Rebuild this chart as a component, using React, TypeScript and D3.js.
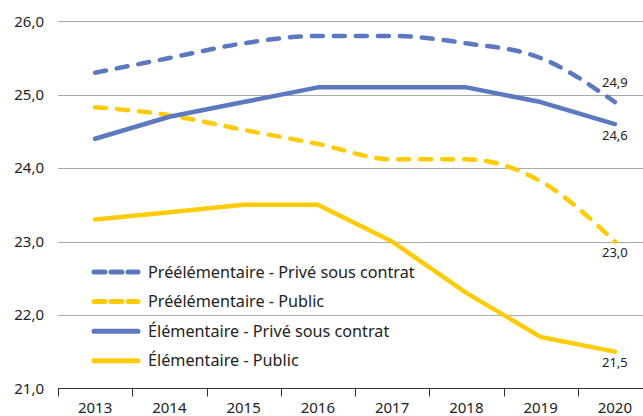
import React, { useRef, useEffect } from "react";
import * as d3 from "d3";

// ── Data ──────────────────────────────────────────────────────────────────────

const YEARS = ["2013", "2014", "2015", "2016", "2017", "2018", "2019", "2020"];

const PREELEM_PRIVE = [25.3, 25.5, 25.7, 25.8, 25.8, 25.7, 25.5, 24.9];
const PREELEM_PUBLIC = [24.83, 24.72, 24.52, 24.33, 24.12, 24.12, 23.82, 23.0];
const ELEM_PRIVE = [24.4, 24.7, 24.9, 25.1, 25.1, 25.1, 24.9, 24.6];
const ELEM_PUBLIC = [23.3, 23.4, 23.5, 23.5, 23.0, 22.3, 21.7, 21.5];

const Y_TICKS = [21, 22, 23, 24, 25, 26];

const BLUE = "#5b78c0";
const YELLOW = "#ffcb05";
const FONT = "'Noto Sans', sans-serif";

interface Series {
  label: string;
  values: number[];
  color: string;
  dashed: boolean;
  endLabel: string;
  labelAbove: boolean;
}

const SERIES: Series[] = [
  { label: "Préélémentaire - Privé sous contrat", values: PREELEM_PRIVE, color: BLUE, dashed: true, endLabel: "24,9", labelAbove: true },
  { label: "Préélémentaire - Public", values: PREELEM_PUBLIC, color: YELLOW, dashed: true, endLabel: "23,0", labelAbove: false },
  { label: "Élémentaire - Privé sous contrat", values: ELEM_PRIVE, color: BLUE, dashed: false, endLabel: "24,6", labelAbove: false },
  { label: "Élémentaire - Public", values: ELEM_PUBLIC, color: YELLOW, dashed: false, endLabel: "21,5", labelAbove: false },
];

const fmt = (v: number) => v.toFixed(1).replace(".", ",");

export default function App() {
  const svgRef = useRef<SVGSVGElement>(null);
  const width = 643;
  const height = 416;

  useEffect(() => {
    if (!svgRef.current) return;
    const svg = d3.select(svgRef.current);
    svg.selectAll("*").remove();

    const x = d3.scaleBand<string>().domain(YEARS).range([58, 652]);
    const y = d3.scaleLinear().domain([21, 26]).range([388.3, 21.3]);
    const cx = (yr: string) => (x(yr) ?? 0) + x.bandwidth() / 2;

    // Gridlines
    svg
      .append("g")
      .selectAll("line")
      .data(Y_TICKS.slice(1))
      .join("line")
      .attr("x1", 58)
      .attr("x2", width)
      .attr("y1", (d) => Math.round(y(d)) + 0.5)
      .attr("y2", (d) => Math.round(y(d)) + 0.5)
      .attr("stroke", "#a9a9a9")
      .attr("stroke-width", 1);

    // Y labels
    svg
      .append("g")
      .selectAll("text")
      .data(Y_TICKS)
      .join("text")
      .attr("x", 44)
      .attr("y", (d) => y(d))
      .attr("dy", "0.35em")
      .attr("text-anchor", "end")
      .attr("font-family", FONT)
      .attr("font-size", 15)
      .attr("fill", "#222")
      .text((d) => fmt(d));

    // X axis
    const baseY = Math.round(y(21)) + 0.5;
    const xAxis = svg.append("g");
    xAxis
      .append("line")
      .attr("x1", 58)
      .attr("x2", width)
      .attr("y1", baseY)
      .attr("y2", baseY)
      .attr("stroke", "#333");
    xAxis
      .selectAll("line.tick")
      .data(YEARS)
      .join("line")
      .attr("class", "tick")
      .attr("x1", (d) => Math.round(x(d) ?? 0) + 0.5)
      .attr("x2", (d) => Math.round(x(d) ?? 0) + 0.5)
      .attr("y1", baseY)
      .attr("y2", baseY + 8)
      .attr("stroke", "#333");
    xAxis
      .selectAll("text")
      .data(YEARS)
      .join("text")
      .attr("x", (d) => cx(d))
      .attr("y", 413)
      .attr("text-anchor", "middle")
      .attr("font-family", FONT)
      .attr("font-size", 15)
      .attr("fill", "#222")
      .text((d) => d);

    // Lines (dashed series are smoothed, solid ones straight)
    const smooth = d3
      .line<number>()
      .x((_, i) => cx(YEARS[i]))
      .y((d) => y(d))
      .curve(d3.curveMonotoneX);
    const straight = d3
      .line<number>()
      .x((_, i) => cx(YEARS[i]))
      .y((d) => y(d));

    SERIES.forEach((s) => {
      svg
        .append("path")
        .datum(s.values)
        .attr("d", s.dashed ? smooth : straight)
        .attr("fill", "none")
        .attr("stroke", s.color)
        .attr("stroke-width", 4.5)
        .attr("stroke-linecap", "round")
        .attr("stroke-linejoin", "round")
        .attr("stroke-dasharray", s.dashed ? "11 11" : null);

      const last = s.values[s.values.length - 1];
      svg
        .append("text")
        .attr("x", cx(YEARS[YEARS.length - 1]))
        .attr("y", y(last) + (s.labelAbove ? -20 : 11))
        .attr("dy", "0.35em")
        .attr("text-anchor", "middle")
        .attr("font-family", FONT)
        .attr("font-size", 13)
        .attr("fill", "#222")
        .text(s.endLabel);
    });

    // Legend
    const legend = svg.append("g");
    SERIES.forEach((s, i) => {
      const ly = 272 + i * 29.6;
      legend
        .append("line")
        .attr("x1", 94)
        .attr("x2", 138)
        .attr("y1", ly)
        .attr("y2", ly)
        .attr("stroke", s.color)
        .attr("stroke-width", 5)
        .attr("stroke-linecap", "round")
        .attr("stroke-dasharray", s.dashed ? "11 6" : null);
      legend
        .append("text")
        .attr("x", 148)
        .attr("y", ly)
        .attr("dy", "0.35em")
        .attr("font-family", FONT)
        .attr("font-size", 16.2)
        .attr("fill", "#222")
        .text(s.label);
    });
  }, []);

  return (
    <svg
      ref={svgRef}
      width={width}
      height={height}
      style={{ position: "absolute", left: 0, top: 0, background: "#fff" }}
    />
  );
}
